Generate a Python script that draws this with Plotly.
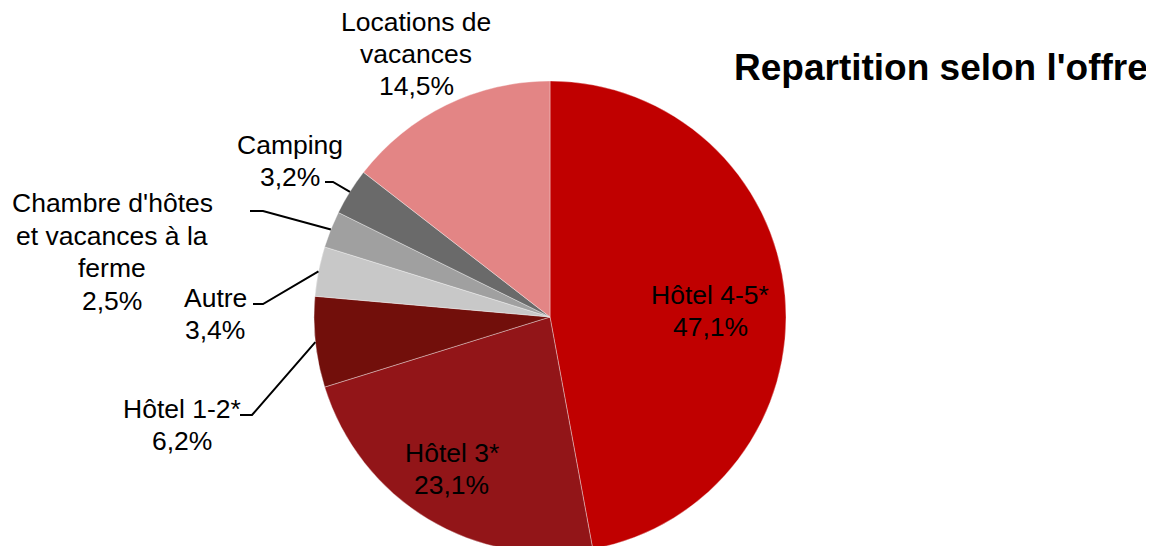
"""Pie chart: repartition selon l'offre d'hebergement."""
import math

import plotly.graph_objects as go

W, H = 1154, 546
OFF = 8  # page body margin, the figure is drawn 8px in from the corner
FONT = "Liberation Sans, Arial, sans-serif"

labels = ["Hôtel 4-5*", "Hôtel 3*", "Hôtel 1-2*", "Autre",
          "Chambre d'hôtes<br>et vacances à la<br>ferme", "Camping",
          "Locations de<br>vacances"]
shares = [47.1, 23.1, 6.2, 3.4, 2.5, 3.2, 14.5]
colors = ["#c00000", "#921518", "#720f0b", "#c8c8c8", "#a0a0a0", "#6a6a6a", "#e38585"]

# label block centres (screen pixels) and leader-line start points (None = no line)
label_pos = [(710, 311), (452, 469), (182, 425), (215, 314), (112, 252), (290, 161), (416, 54)]
leader_start = [None, None, (240, 415), (253, 304), (250, 211), (325, 182), None]
ELBOW = [None, None, 12, 10, 13, 8, None]
LINE_GAP = 32.5

# pie geometry in screen pixels
TOP = 81
R = 236
CX, CY = 550, TOP + R


def px(x):
    return (x - OFF) / W


def py(y):
    return 1 - (y - OFF) / H


fig = go.Figure(go.Pie(
    labels=labels, values=shares, sort=False, direction="clockwise", rotation=0,
    marker=dict(colors=colors, line=dict(color="rgba(255,255,255,0.6)", width=0.6)),
    textinfo="none", hoverinfo="label+percent", showlegend=False,
    domain=dict(x=[px(CX - R), px(CX + R)], y=[py(TOP + 2 * R), py(TOP)]),
))

annotations = []
shapes = []
cum = 0.0
total = sum(shares)
for lab, val, pos, start, elbow in zip(labels, shares, label_pos, leader_start, ELBOW):
    mid = (cum + val / 2) / total * 2 * math.pi
    cum += val
    pct = f"{val:.1f}%".replace(".", ",")
    lines = lab.split("<br>") + [pct]
    for i, line in enumerate(lines):
        y = pos[1] + (i - (len(lines) - 1) / 2) * LINE_GAP
        annotations.append(dict(
            x=px(pos[0]), y=py(y), xref="paper", yref="paper",
            text=line, showarrow=False, xanchor="center", yanchor="middle",
            font=dict(family=FONT, size=26.5, color="#000000"),
        ))
    if start is not None:
        ex = CX + R * math.sin(mid)
        ey = CY - R * math.cos(mid)
        sx, sy = start
        path = (f"M {px(sx)},{py(sy)} L {px(sx + elbow)},{py(sy)} "
                f"L {px(ex)},{py(ey)}")
        shapes.append(dict(type="path", path=path, xref="paper", yref="paper",
                           line=dict(color="#000000", width=2)))

annotations.append(dict(
    x=px(941), y=py(67), xref="paper", yref="paper",
    text="<b>Repartition selon l'offre</b>", showarrow=False,
    xanchor="center", yanchor="middle",
    font=dict(family=FONT, size=37, color="#000000"),
))

fig.update_layout(
    width=W, height=H,
    margin=dict(l=0, r=0, t=0, b=0),
    paper_bgcolor="#ffffff", plot_bgcolor="#ffffff",
    annotations=annotations, shapes=shapes,
)

fig.write_html("out.html")
